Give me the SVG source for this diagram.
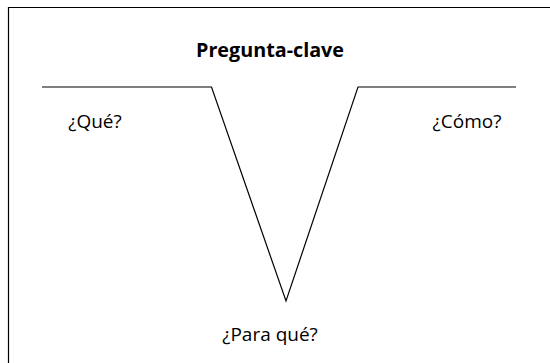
<svg xmlns="http://www.w3.org/2000/svg" width="550" height="363" viewBox="0 0 550 363">
<style>
.t{font-family:"Open Sans","Liberation Sans",sans-serif;fill:#000;}
.lbl{font-size:19px;}
.ttl{font-size:19px;font-weight:bold;}
.ln{fill:none;stroke:#000;stroke-width:1.2;}
</style>
<rect width="550" height="363" fill="#fff"/>
<g id="frame">
<path class="ln" d="M8.5,363 V7.5 H550" stroke-width="1.6"/>
</g>
<g id="connectors">
<path class="ln" d="M42,87 H211.5 L286,301 L358,87 H516"/>
</g>
<g id="title"><text class="t ttl" x="270" y="57" text-anchor="middle" textLength="148" lengthAdjust="spacingAndGlyphs">Pregunta-clave</text></g>
<g id="que"><text class="t lbl" x="95" y="128" text-anchor="middle">¿Qué?</text></g>
<g id="como"><text class="t lbl" x="467" y="128" text-anchor="middle">¿Cómo?</text></g>
<g id="paraque"><text class="t lbl" x="270" y="341" text-anchor="middle">¿Para qué?</text></g>
</svg>
